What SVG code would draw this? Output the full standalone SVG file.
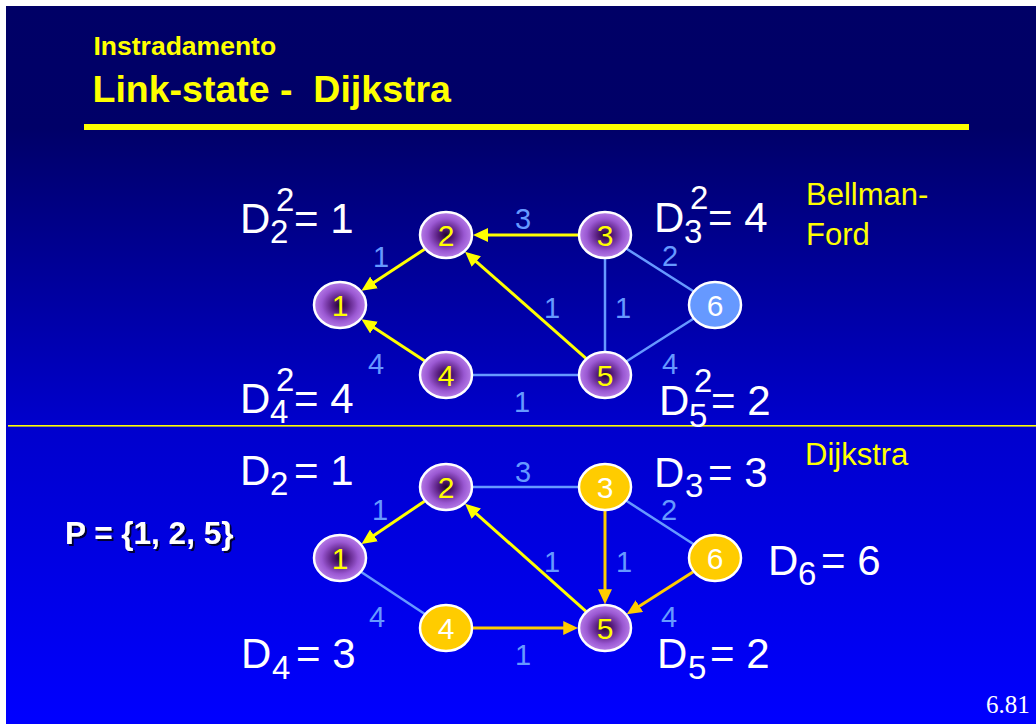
<svg xmlns="http://www.w3.org/2000/svg" width="1036" height="724" viewBox="0 0 1036 724">
<defs>
<linearGradient id="bg" x1="0" y1="6" x2="0" y2="724" gradientUnits="userSpaceOnUse">
<stop offset="0" stop-color="#000066"/>
<stop offset="0.17" stop-color="#000068"/>
<stop offset="0.58" stop-color="#0000cc"/>
<stop offset="1" stop-color="#0000ff"/>
</linearGradient>
<radialGradient id="pur" cx="0.5" cy="0.5" r="0.5">
<stop offset="0" stop-color="#240430"/>
<stop offset="0.3" stop-color="#561c7c"/>
<stop offset="0.7" stop-color="#9a58d2"/>
<stop offset="1" stop-color="#b67ce8"/>
</radialGradient>
<marker id="ay" markerUnits="userSpaceOnUse" markerWidth="15" markerHeight="14" refX="2" refY="7" orient="auto">
<path d="M0,0 L15,7 L0,14 z" fill="#ffff00"/>
</marker>
<marker id="ag" markerUnits="userSpaceOnUse" markerWidth="15" markerHeight="14" refX="2" refY="7" orient="auto">
<path d="M0,0 L15,7 L0,14 z" fill="#ffcc00"/>
</marker>
<filter id="sh" x="-10%" y="-20%" width="120%" height="140%">
<feDropShadow dx="2" dy="2" stdDeviation="0" flood-color="#000033" flood-opacity="1"/>
</filter>
</defs>
<style>
text{font-family:"Liberation Sans",Arial,sans-serif}
.t1{font-weight:bold;fill:#ffff00}
.big{font-size:42px;fill:#ffffff}
.ss{font-size:33px;fill:#ffffff}
.el{font-size:29px;fill:#6699ff;text-anchor:middle}
.nd{stroke:#ffffff;stroke-width:2.5}
.np{fill:url(#pur)}
.ng{fill:#ffcc00}
.nb{fill:#6699ff}
.num{font-size:30px;text-anchor:middle}
.ny{fill:#ffff00}
.nw{fill:#ffffff}
.bl{stroke:#6699ff;stroke-width:2.5;fill:none}
.ya{stroke:#ffff00;stroke-width:3;fill:none;marker-end:url(#ay)}
.ga{stroke:#ffcc00;stroke-width:3;fill:none;marker-end:url(#ag)}
.lab{font-size:31px;fill:#ffff00}
</style>
<rect x="0" y="0" width="1036" height="724" fill="#ffffff"/>
<rect x="6" y="6" width="1030" height="718" fill="url(#bg)"/>
<g id="title">
<text class="t1" x="93.5" y="55" font-size="26.5">Instradamento</text>
<text class="t1" x="92.5" y="102" font-size="37.5" style="white-space:pre">Link-state -  Dijkstra</text>
<rect x="84" y="124" width="885" height="6" fill="#ffff00"/>
</g>
<rect x="8" y="425" width="1028" height="1.6" fill="#ffff00"/>
<g id="connectors">
<line class="bl" x1="605" y1="235" x2="605" y2="375"/>
<line class="bl" x1="605" y1="235" x2="715" y2="305"/>
<line class="bl" x1="715" y1="305" x2="605" y2="375"/>
<line class="bl" x1="446" y1="375" x2="605" y2="375"/>
<line class="ya" x1="578.25" y1="235" x2="486" y2="235"/>
<line class="ya" x1="424.5" y1="249.2" x2="372.3" y2="283.6"/>
<line class="ya" x1="424.5" y1="360.8" x2="372.3" y2="326.4"/>
<line class="ya" x1="586" y1="358.3" x2="474.8" y2="260.3"/>
<line class="bl" x1="340" y1="558" x2="446" y2="628"/>
<line class="bl" x1="446" y1="487" x2="605" y2="487"/>
<line class="bl" x1="605" y1="487" x2="715" y2="558"/>
<line class="ya" x1="424.5" y1="501.2" x2="372.3" y2="536.6"/>
<line class="ya" x1="586" y1="611.3" x2="474.8" y2="512.3"/>
<line class="ga" x1="605" y1="510.75" x2="605" y2="591.25"/>
<line class="ga" x1="693.3" y1="571.8" x2="637.7" y2="607.2"/>
<line class="ga" x1="472.75" y1="628" x2="565.25" y2="628"/>
</g>
<g id="edge-labels">
<text class="el" x="523" y="229">3</text>
<text class="el" x="381" y="267">1</text>
<text class="el" x="670" y="266">2</text>
<text class="el" x="552" y="318">1</text>
<text class="el" x="623" y="318">1</text>
<text class="el" x="376" y="374">4</text>
<text class="el" x="670" y="374">4</text>
<text class="el" x="522" y="412">1</text>
<text class="el" x="523" y="482">3</text>
<text class="el" x="380" y="520">1</text>
<text class="el" x="669" y="520">2</text>
<text class="el" x="552" y="572">1</text>
<text class="el" x="624" y="572">1</text>
<text class="el" x="377" y="627">4</text>
<text class="el" x="669" y="627">4</text>
<text class="el" x="523" y="665">1</text>
</g>
<g id="bf-n1"><ellipse class="nd np" cx="340" cy="305" rx="26" ry="23"/><text class="num ny" x="340" y="316">1</text></g>
<g id="bf-n2"><ellipse class="nd np" cx="446" cy="235" rx="26" ry="23"/><text class="num ny" x="446" y="246">2</text></g>
<g id="bf-n3"><ellipse class="nd np" cx="605" cy="235" rx="26" ry="23"/><text class="num ny" x="605" y="246">3</text></g>
<g id="bf-n4"><ellipse class="nd np" cx="446" cy="375" rx="26" ry="23"/><text class="num ny" x="446" y="386">4</text></g>
<g id="bf-n5"><ellipse class="nd np" cx="605" cy="375" rx="26" ry="23"/><text class="num ny" x="605" y="386">5</text></g>
<g id="bf-n6"><ellipse class="nd nb" cx="715" cy="305" rx="26" ry="23"/><text class="num nw" x="715" y="316">6</text></g>
<g id="dj-n1"><ellipse class="nd np" cx="340" cy="558" rx="26" ry="23"/><text class="num ny" x="340" y="569">1</text></g>
<g id="dj-n2"><ellipse class="nd np" cx="446" cy="487" rx="26" ry="23"/><text class="num ny" x="446" y="498">2</text></g>
<g id="dj-n3"><ellipse class="nd ng" cx="605" cy="487" rx="26" ry="23"/><text class="num nw" x="605" y="498">3</text></g>
<g id="dj-n4"><ellipse class="nd ng" cx="446" cy="628" rx="26" ry="23"/><text class="num nw" x="446" y="639">4</text></g>
<g id="dj-n5"><ellipse class="nd np" cx="605" cy="628" rx="26" ry="23"/><text class="num ny" x="605" y="639">5</text></g>
<g id="dj-n6"><ellipse class="nd ng" cx="715" cy="558" rx="26" ry="23"/><text class="num nw" x="715" y="569">6</text></g>
<g id="bf-d2"><text class="big" x="240" y="233">D</text><text class="ss" x="276" y="211">2</text><text class="ss" x="270" y="243">2</text><text class="big" x="294" y="233">= 1</text></g>
<g id="bf-d3"><text class="big" x="654" y="232">D</text><text class="ss" x="690" y="209">2</text><text class="ss" x="684" y="243">3</text><text class="big" x="708" y="232">= 4</text></g>
<g id="bf-d4"><text class="big" x="240" y="413">D</text><text class="ss" x="276" y="391">2</text><text class="ss" x="270" y="423">4</text><text class="big" x="294" y="413">= 4</text></g>
<g id="bf-d5"><text class="big" x="659" y="415">D</text><text class="ss" x="694" y="392">2</text><text class="ss" x="689" y="427">5</text><text class="big" x="711" y="415">= 2</text></g>
<g id="dj-d2"><text class="big" x="240" y="485">D</text><text class="ss" x="270" y="495">2</text><text class="big" x="294" y="485">= 1</text></g>
<g id="dj-d3"><text class="big" x="654" y="487">D</text><text class="ss" x="685" y="497">3</text><text class="big" x="708" y="487">= 3</text></g>
<g id="dj-d6"><text class="big" x="768" y="575">D</text><text class="ss" x="798" y="585">6</text><text class="big" x="821" y="575">= 6</text></g>
<g id="dj-d4"><text class="big" x="241" y="668">D</text><text class="ss" x="272" y="679">4</text><text class="big" x="296" y="668">= 3</text></g>
<g id="dj-d5"><text class="big" x="657" y="668">D</text><text class="ss" x="688" y="679">5</text><text class="big" x="710" y="668">= 2</text></g>
<g id="method-labels">
<text class="lab" x="806" y="205">Bellman-</text>
<text class="lab" x="806" y="245">Ford</text>
<text class="lab" x="805" y="465">Dijkstra</text>
</g>
<text x="65" y="544" font-size="31.5" font-weight="bold" fill="#ffffff" filter="url(#sh)">P = {1, 2, 5}</text>
<text x="986" y="713" font-size="25" fill="#ffffff" style="font-family:'Liberation Serif','Times New Roman',serif">6.81</text>
</svg>
